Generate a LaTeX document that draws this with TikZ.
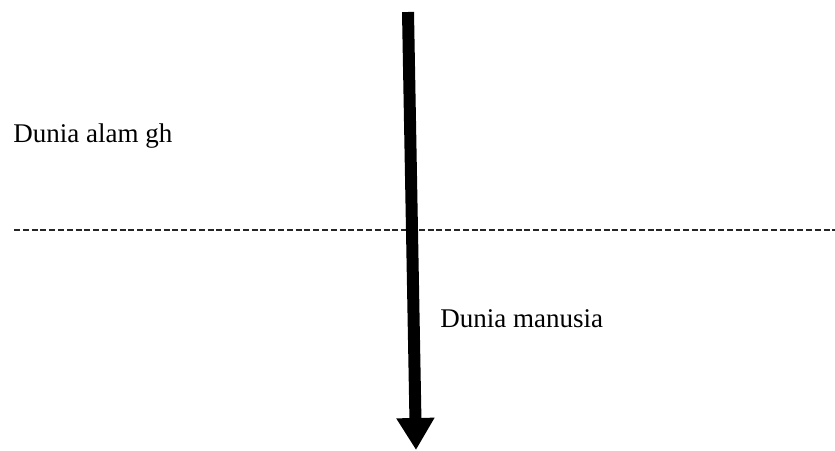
\documentclass[tikz,border=0pt]{standalone}
\usepackage{fontspec}
\setmainfont{Liberation Serif}
\usetikzlibrary{arrows.meta}
\begin{document}
\begin{tikzpicture}[x=0.5pt,y=-0.5pt]

\tikzstyle{label} = [anchor=base west, inner sep=0pt, font=\fontsize{13.5}{16}\selectfont]
\tikzstyle{border} = [dash pattern=on 3pt off 1.4pt, line width=1.2pt, draw=black!85]
\tikzstyle{arrow} = [line width=6pt, -{Triangle[width=18pt,length=16pt]}]

\useasboundingbox (0,0) rectangle (835,450);

\coordinate (left) at (14,230);
\coordinate (right) at (835,230);
\coordinate (top) at (408,12);
\coordinate (tip) at (416,450);

\node (alam) [label] at (13,142) {Dunia alam gh};
\node (manusia) [label] at (440,327) {Dunia manusia};

\draw [border] (left) -- (right);
\draw [arrow] (top) -- (tip);

\end{tikzpicture}
\end{document}
